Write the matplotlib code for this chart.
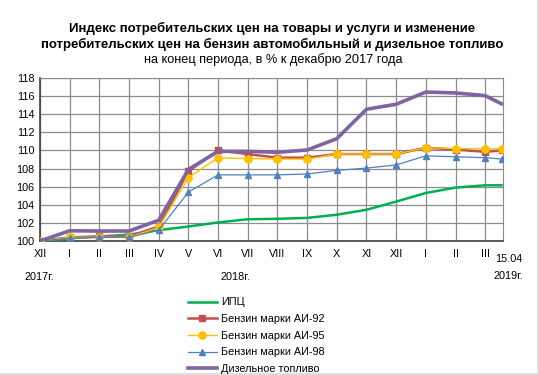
import matplotlib
matplotlib.use('Agg')
import matplotlib.pyplot as plt
import numpy as np

plt.rcParams['font.family'] = ['Liberation Sans', 'DejaVu Sans']

months = ['XII', 'I', 'II', 'III', 'IV', 'V', 'VI', 'VII', 'VIII', 'IX', 'X', 'XI', 'XII', 'I', 'II', 'III', '15.04']
ipc = [100, 100.3, 100.5, 100.7, 101.2, 101.6, 102.05, 102.4, 102.45, 102.55, 102.9, 103.45, 104.35, 105.3, 105.9, 106.15, 106.15]
ai92 = [100, 100.4, 100.5, 100.5, 101.6, 107.7, 110.0, 109.6, 109.2, 109.2, 109.6, 109.6, 109.6, 110.3, 110.1, 109.85, 110.0]
ai95 = [100, 100.4, 100.4, 100.4, 101.5, 107.0, 109.2, 109.1, 109.05, 109.05, 109.6, 109.6, 109.6, 110.3, 110.2, 110.2, 110.2]
ai98 = [100, 100.3, 100.4, 100.4, 101.2, 105.4, 107.3, 107.3, 107.3, 107.4, 107.8, 108.05, 108.4, 109.4, 109.3, 109.2, 109.05]
diesel = [100, 101.13, 101.1, 101.1, 102.3, 107.9, 109.9, 109.9, 109.8, 110.05, 111.3, 114.55, 115.1, 116.45, 116.35, 116.05, 115.15]

# последняя точка - 15 апреля, половина месяца
x = np.append(np.arange(16), 15.55)

fig = plt.figure(figsize=(5.39, 3.75), dpi=100)
ax = fig.add_axes([40/539, 134/375, 463/539, 163/375])

ax.plot(x, ipc, color='#00B050', lw=1.8, label='ИПЦ', zorder=3)
ax.plot(x, ai92, color='#C0504D', lw=1.8, marker='s', ms=5, label='Бензин марки АИ-92', zorder=4)
ax.plot(x, ai95, color='#FFC000', lw=1.0, marker='o', ms=5.2, label='Бензин марки АИ-95', zorder=5)
ax.plot(x, ai98, color='#4F81BD', lw=0.9, marker='^', ms=5, label='Бензин марки АИ-98', zorder=6)
ax.plot(x, diesel, color='#8064A2', lw=2.6, label='Дизельное топливо', zorder=7)

ax.set_xlim(0, 15.6)
ax.set_ylim(100, 118)
ax.set_yticks(np.arange(100, 119, 2))
ax.set_xticks(np.arange(16))
ax.set_xticklabels(months[:16])
ax.tick_params(axis='both', length=0, labelsize=7.8, pad=6)
ax.tick_params(axis='y', pad=4)
ax.grid(True, color='#8c8c8c', lw=0.9)
ax.set_axisbelow(True)
for s in ['top', 'right']:
    ax.spines[s].set_color('#8c8c8c')
for s in ['left', 'bottom']:
    ax.spines[s].set_color('#404040')
    ax.spines[s].set_linewidth(1.2)

# подписи дат и годов
fig.text(509/539, 1 - 259/375, '15.04', fontsize=7.8, ha='center', va='center')
fig.text(39/539, 1 - 277/375, '2017г.', fontsize=7.8, ha='center', va='center')
fig.text(235/539, 1 - 277/375, '2018г.', fontsize=7.8, ha='center', va='center')
fig.text(508/539, 1 - 276/375, '2019г.', fontsize=7.8, ha='center', va='center')

# заголовок
fig.text(272/539, 1 - 28/375, 'Индекс потребительских цен на товары и услуги и изменение',
         fontsize=9.5, fontweight='bold', ha='center', va='center')
fig.text(272/539, 1 - 44/375, 'потребительских цен на бензин автомобильный и дизельное топливо',
         fontsize=9.5, fontweight='bold', ha='center', va='center')
fig.text(273/539, 1 - 60/375, 'на конец периода, в % к декабрю 2017 года',
         fontsize=9.2, ha='center', va='center')

fig.legend(loc='upper left', bbox_to_anchor=(184/539, 1 - 293/375), frameon=False,
           fontsize=7.8, handlelength=2.6, handletextpad=0.45, labelspacing=0.62, borderaxespad=0)

# рамка справа и снизу
fig.add_artist(plt.Line2D([0, 1], [0.002, 0.002], transform=fig.transFigure, color='#d9d9d9', lw=1.2))
fig.add_artist(plt.Line2D([0.998, 0.998], [0, 1], transform=fig.transFigure, color='#d9d9d9', lw=1.2))

fig.savefig('out.png', dpi=100)
